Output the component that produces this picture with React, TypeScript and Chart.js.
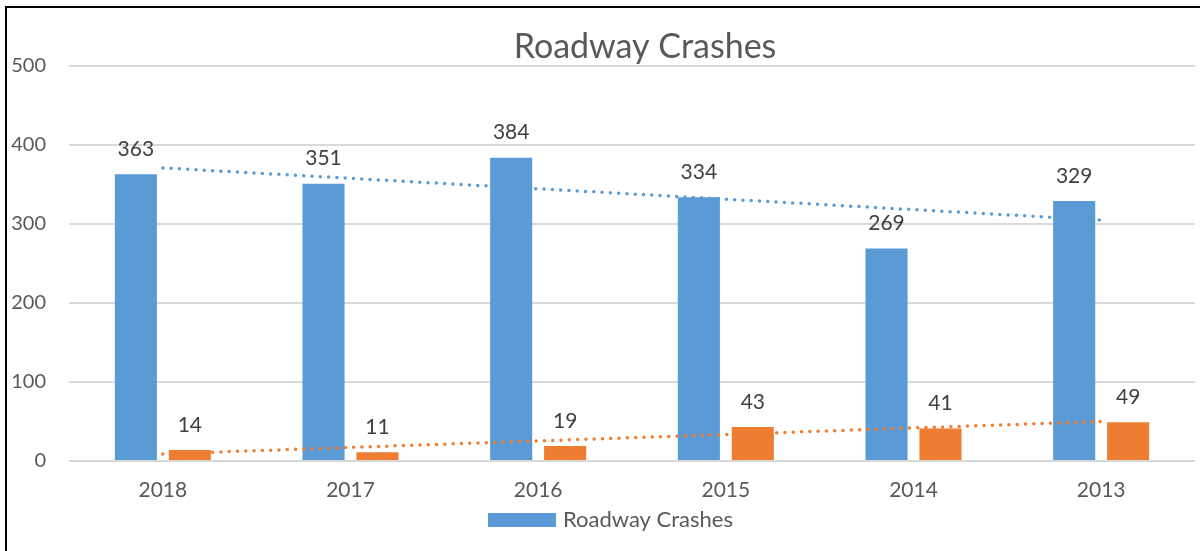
import React, { useEffect, useRef } from "react";
import { Chart, registerables } from "chart.js";

Chart.register(...registerables);

const categories = ["2018", "2017", "2016", "2015", "2014", "2013"];
const roadwayCrashes = [363, 351, 384, 334, 269, 329];
const secondSeries = [14, 11, 19, 43, 41, 49];
const blueTrend = [371, null, null, null, null, 305];
const orangeTrend = [9, null, null, null, null, 50];
const yTicks = [0, 100, 200, 300, 400, 500];
const titleText = "Roadway Crashes";
const legendText = "Roadway Crashes";

const BLUE = "#5b9bd5";
const ORANGE = "#ed7d31";
const FONT = "Lato";

const overlayPlugin = {
  id: "overlay",
  afterDatasetsDraw(chart: any) {
    const ctx = chart.ctx;
    ctx.save();
    ctx.fillStyle = "#404040";
    ctx.font = `21px ${FONT}`;
    ctx.textAlign = "center";
    ctx.textBaseline = "middle";
    [0, 1].forEach((di) => {
      const meta = chart.getDatasetMeta(di);
      const vals = chart.data.datasets[di].data;
      meta.data.forEach((bar: any, i: number) => {
        ctx.fillText(String(vals[i]), bar.x, bar.y - 25);
      });
    });
    ctx.restore();
  },
  afterDraw(chart: any) {
    const ctx = chart.ctx;
    ctx.save();
    ctx.fillStyle = "#595959";
    ctx.font = `34px ${FONT}`;
    ctx.textAlign = "center";
    ctx.textBaseline = "middle";
    ctx.fillText(titleText, 645, 47);
    ctx.fillStyle = BLUE;
    ctx.fillRect(488, 513, 68, 14);
    ctx.fillStyle = "#595959";
    ctx.font = `22px ${FONT}`;
    ctx.textAlign = "left";
    ctx.fillText(legendText, 563, 520);
    ctx.restore();
  },
};

export default function App() {
  const ref = useRef<HTMLCanvasElement | null>(null);
  useEffect(() => {
    if (!ref.current) return;
    const chart = new Chart(ref.current, {
      type: "bar",
      data: {
        labels: categories,
        datasets: [
          {
            type: "bar",
            label: "Roadway Crashes",
            data: roadwayCrashes,
            backgroundColor: BLUE,
            categoryPercentage: 0.575,
            barPercentage: 0.78,
            order: 1,
          },
          {
            type: "bar",
            label: "",
            data: secondSeries,
            backgroundColor: ORANGE,
            categoryPercentage: 0.575,
            barPercentage: 0.78,
            order: 1,
          },
          {
            type: "line",
            label: "trend1",
            data: blueTrend as any,
            borderColor: BLUE,
            borderWidth: 3.5,
            borderDash: [0, 8.3],
            borderCapStyle: "round",
            pointRadius: 0,
            spanGaps: true,
            fill: false,
            order: 0,
          },
          {
            type: "line",
            label: "trend2",
            data: orangeTrend as any,
            borderColor: ORANGE,
            borderWidth: 3.5,
            borderDash: [0, 8.3],
            borderCapStyle: "round",
            pointRadius: 0,
            spanGaps: true,
            fill: false,
            order: 0,
          },
        ],
      },
      options: {
        responsive: false,
        animation: false,
        layout: { padding: { top: 66, left: 11, right: 5, bottom: 40 } },
        plugins: {
          legend: { display: false },
          title: { display: false },
          tooltip: { enabled: false },
        },
        scales: {
          x: {
            grid: { display: false, drawTicks: false },
            border: { display: false },
            ticks: { color: "#595959", font: { family: FONT, size: 21 }, padding: 17 },
            afterFit: (axis: any) => {
              axis.height = 50;
            },
          },
          y: {
            min: 0,
            max: 500,
            afterBuildTicks: (axis: any) => {
              axis.ticks = yTicks.map((v) => ({ value: v }));
            },
            afterFit: (axis: any) => {
              axis.width = 58;
            },
            grid: { color: "#d9d9d9", lineWidth: 2, drawTicks: false },
            border: { display: false },
            ticks: { color: "#595959", font: { family: FONT, size: 20 }, padding: 23 },
          },
        },
      },
      plugins: [overlayPlugin],
    });
    return () => chart.destroy();
  }, []);

  return (
    <div style={{ position: "absolute", left: 0, top: 0, width: 1200, height: 551, background: "#fff", overflow: "hidden" }}>
      <canvas ref={ref} width={1200} height={551} style={{ position: "absolute", left: 0, top: 0 }} />
      <div style={{ position: "absolute", left: 5, top: 6, width: 1195, height: 2, background: "#000" }} />
      <div style={{ position: "absolute", left: 5, top: 6, width: 2, height: 545, background: "#000" }} />
    </div>
  );
}
